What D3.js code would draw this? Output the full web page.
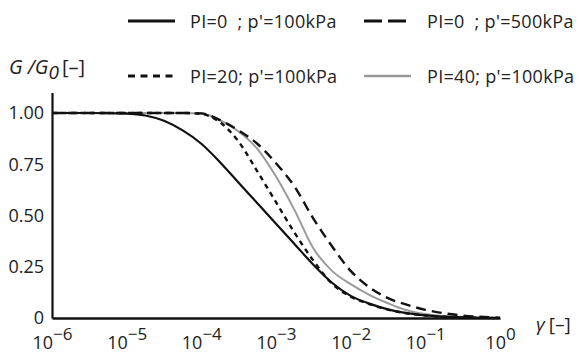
<!DOCTYPE html>
<html>
<head>
<meta charset="utf-8">
<script src="https://cdn.jsdelivr.net/npm/d3@7"></script>
<style>
  html, body { margin: 0; padding: 0; background: #fff; }
  svg { display: block; font-family: "Open Sans", sans-serif; }
</style>
</head>
<body>
<svg id="chart" width="579" height="353"></svg>
<script>
/* shear strain grid (log10 of gamma) and G/G0 */
const logStrain = [-6, -5.5, -5, -4.75, -4.5, -4.25, -4, -3.75, -3.5, -3.25, -3, -2.75, -2.5, -2.25, -2, -1.75, -1.5, -1.25, -1, -0.5, 0]
const pi0p100  = [1, 1, 0.997, 0.988, 0.962, 0.915, 0.85, 0.76, 0.66, 0.56, 0.46, 0.36, 0.26, 0.172, 0.108, 0.07, 0.042, 0.024, 0.013, 0.003, 0]
const pi0p500  = [1, 1, 1, 1, 1, 1, 0.998, 0.965, 0.915, 0.85, 0.755, 0.64, 0.485, 0.35, 0.23, 0.15, 0.097, 0.065, 0.04, 0.012, 0.002]
const pi20p100 = [1, 1, 1, 1, 1, 1, 0.995, 0.955, 0.86, 0.715, 0.565, 0.415, 0.28, 0.168, 0.104, 0.068, 0.041, 0.023, 0.012, 0.003, 0]
const pi40p100 = [1, 1, 1, 1, 1, 1, 0.998, 0.965, 0.91, 0.825, 0.69, 0.525, 0.34, 0.23, 0.165, 0.113, 0.072, 0.038, 0.019, 0.004, 0]

const seriesNames = ["PI=0  ; p'=100kPa", "PI=0  ; p'=500kPa", "PI=20; p'=100kPa", "PI=40; p'=100kPa"]
const seriesValues = [pi0p100, pi0p500, pi20p100, pi40p100]

const xTickExponents = [-6, -5, -4, -3, -2, -1, 0]
const yTicks = [0, 0.25, 0.5, 0.75, 1]

/* line styles per series */
const styles = [
  { stroke: "#111", width: 2.2, dash: null },
  { stroke: "#111", width: 2.4, dash: "10,6" },
  { stroke: "#111", width: 2.4, dash: "5,4.5" },
  { stroke: "#9a9a9a", width: 2, dash: null }
]

const svg = d3.select("#chart")

const x = d3.scaleLog([1e-6, 1], [52, 500])
const y = d3.scaleLinear([0, 1.1], [318, 92.5])

/* curves */
const line = d3.line()
  .x(d => x(Math.pow(10, d[0])))
  .y(d => y(d[1]))
  .curve(d3.curveMonotoneX)

const drawOrder = [3, 0, 2, 1]
svg.append("g")
  .selectAll("path")
  .data(drawOrder)
  .join("path")
  .attr("fill", "none")
  .attr("stroke", i => styles[i].stroke)
  .attr("stroke-width", i => styles[i].width)
  .attr("stroke-dasharray", i => styles[i].dash)
  .attr("stroke-linejoin", "round")
  .attr("d", i => line(logStrain.map((l, k) => [l, seriesValues[i][k]])))

/* y axis */
svg.append("g")
  .attr("transform", "translate(52,0)")
  .call(d3.axisLeft(y).tickValues(yTicks).tickSize(0).tickPadding(8)
    .tickFormat(d => d === 0 ? "0" : d3.format(".2f")(d)))
  .call(g => g.select(".domain").attr("stroke", "#111").attr("stroke-width", 2.2))
  .call(g => g.selectAll(".tick text")
    .attr("font-family", "Open Sans")
    .attr("font-size", 18)
    .attr("fill", "#222"))

/* x axis */
svg.append("g")
  .attr("transform", "translate(0,318)")
  .call(d3.axisBottom(x).tickValues(xTickExponents.map(e => Math.pow(10, e))).tickSize(0).tickFormat(""))
  .call(g => g.select(".domain").attr("stroke", "#111").attr("stroke-width", 2.4))
  .call(g => g.selectAll(".tick text").each(function(d, i) {
    const t = d3.select(this)
      .attr("y", 31)
      .attr("dy", null)
      .attr("font-family", "Open Sans")
      .attr("fill", "#222")
      .attr("text-anchor", "middle")
    t.append("tspan").attr("font-size", 18).text("10")
    t.append("tspan").attr("font-size", 17).attr("dy", -9)
      .text(xTickExponents[i] === 0 ? "0" : "\u2212" + Math.abs(xTickExponents[i]))
  }))

/* axis titles */
const yTitle = svg.append("text")
  .attr("x", 9)
  .attr("y", 74)
  .attr("font-size", 20)
  .attr("fill", "#222")
yTitle.append("tspan").attr("font-style", "italic").text("G /G")
yTitle.append("tspan").attr("font-style", "italic").attr("font-size", 19).attr("dy", 5).text("0")
yTitle.append("tspan").attr("dy", -5).attr("dx", 3).text("[\u2013]")

const xTitle = svg.append("text")
  .attr("x", 536)
  .attr("y", 331)
  .attr("font-size", 19)
  .attr("fill", "#222")
xTitle.append("tspan").attr("font-style", "italic").text("\u03b3")
xTitle.append("tspan").attr("dx", 4).text("[\u2013]")

/* legend */
const legendX = [128, 364, 128, 364]
const legendY = [21, 21, 76, 76]
const legendLen = [47, 42, 45, 47]
const legend = svg.append("g")
  .selectAll("g")
  .data(d3.range(seriesNames.length))
  .join("g")
  .attr("transform", i => `translate(${legendX[i]},${legendY[i]})`)

legend.append("line")
  .attr("x1", 0)
  .attr("x2", i => legendLen[i])
  .attr("stroke", i => styles[i].stroke)
  .attr("stroke-width", i => i === 1 ? 3 : styles[i].width + 0.6)
  .attr("stroke-dasharray", i => i === 1 ? "18,6" : i === 2 ? "7,5.5" : null)

legend.append("text")
  .attr("x", i => i % 2 === 0 ? 62 : 63)
  .attr("y", 7)
  .attr("font-size", 18)
  .attr("letter-spacing", 0.3)
  .attr("fill", "#222")
  .attr("xml:space", "preserve")
  .style("white-space", "pre")
  .text(i => seriesNames[i])
</script>
</body>
</html>
